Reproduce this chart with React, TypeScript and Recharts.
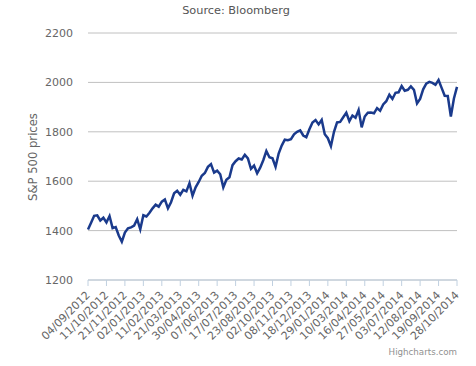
import { LineChart, Line, XAxis, YAxis, CartesianGrid } from 'recharts';

// one tick label every 27 trading days
const tickLabels = [
  '04/09/2012', '11/10/2012', '21/11/2012', '02/01/2013', '11/02/2013',
  '21/03/2013', '30/04/2013', '07/06/2013', '17/07/2013', '23/08/2013',
  '02/10/2013', '08/11/2013', '18/12/2013', '29/01/2014', '10/03/2014',
  '16/04/2014', '27/05/2014', '03/07/2014', '12/08/2014', '19/09/2014',
  '28/10/2014',
];

const yTicks = [1200, 1400, 1600, 1800, 2000, 2200];

// six readings per tick interval
const SAMPLES_PER_TICK = 6;
const prices = [
  1404, 1432, 1460, 1462, 1441, 1452,
  1433, 1459, 1410, 1414, 1380, 1355,
  1392, 1409, 1413, 1420, 1446, 1405,
  1462, 1457, 1472, 1490, 1505, 1497,
  1517, 1526, 1490, 1515, 1551, 1561,
  1545, 1565, 1559, 1592, 1541, 1575,
  1597, 1622, 1633, 1658, 1669, 1635,
  1643, 1628, 1575, 1606, 1616, 1665,
  1681, 1692, 1688, 1707, 1692, 1650,
  1663, 1632, 1655, 1685, 1722, 1697,
  1693, 1658, 1712, 1744, 1768, 1766,
  1770, 1790, 1800, 1806, 1785, 1778,
  1810, 1838, 1848, 1830, 1848, 1790,
  1774, 1742, 1800, 1838, 1840, 1859,
  1877, 1843, 1866, 1857, 1888, 1818,
  1862, 1877, 1878, 1875, 1896, 1885,
  1911, 1924, 1950, 1933, 1958, 1960,
  1985, 1966, 1970, 1984, 1970, 1915,
  1933, 1972, 1995, 2002, 1998, 1990,
  2010, 1978, 1946, 1945, 1862, 1935,
  1982,
];

const chartData = prices.map((price, i) => ({ x: i / SAMPLES_PER_TICK, price }));

const FONT = '"DejaVu Sans", sans-serif';

function DateTick(props: any) {
  const { x, y, payload } = props;
  const ty = y + 5;
  return (
    <text
      x={x}
      y={ty}
      dy="0.35em"
      textAnchor="end"
      transform={`rotate(-45 ${x} ${ty})`}
      fontSize={11}
      fontFamily={FONT}
      fill="#666"
    >
      {tickLabels[Math.round(payload.value)]}
    </text>
  );
}

export default function App() {
  return (
    <div style={{ position: 'absolute', left: 0, top: 0, width: 476, height: 366, background: '#fff', fontFamily: FONT }}>
      <div style={{ position: 'absolute', top: 4, left: 0, width: 472, textAlign: 'center', fontSize: 11.3, color: '#555' }}>
        Source: Bloomberg
      </div>
      <LineChart width={476} height={366} data={chartData} margin={{ top: 33, right: 19, bottom: 0, left: 0 }}>
        <CartesianGrid vertical={false} stroke="#C0C0C0" />
        <XAxis
          dataKey="x"
          type="number"
          domain={[0, 20]}
          ticks={tickLabels.map((_, i) => i)}
          interval={0}
          height={86}
          axisLine={{ stroke: '#C0D0E0' }}
          tickLine={{ stroke: '#C0D0E0' }}
          tickSize={6}
          tick={<DateTick />}
        />
        <YAxis
          type="number"
          domain={[1200, 2200]}
          ticks={yTicks}
          width={88}
          axisLine={false}
          tickLine={false}
          tickSize={0}
          tickMargin={15}
          tick={{ fontSize: 11, fill: '#666', fontFamily: FONT }}
          label={{
            content: () => (
              <text
                x={33}
                y={157}
                transform="rotate(-90 33 157)"
                textAnchor="middle"
                dominantBaseline="central"
                fontSize={11.6}
                fontFamily={FONT}
                fill="#666"
              >
                S&amp;P 500 prices
              </text>
            ),
          }}
        />
        <Line
          type="linear"
          dataKey="price"
          stroke="#1a3a8c"
          strokeWidth={2.5}
          dot={false}
          isAnimationActive={false}
        />
      </LineChart>
      <div style={{ position: 'absolute', right: 19, top: 347, fontSize: 8.7, color: '#909090' }}>
        Highcharts.com
      </div>
    </div>
  );
}
